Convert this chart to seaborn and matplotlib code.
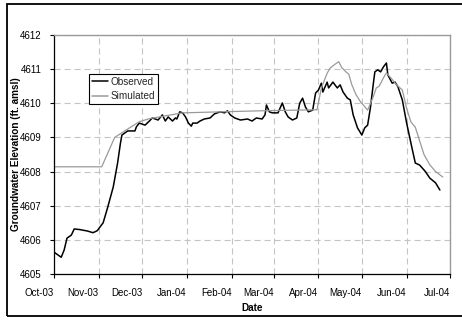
import matplotlib
matplotlib.use("Agg")
import matplotlib.pyplot as plt
import matplotlib.dates as mdates
from matplotlib.patches import Rectangle
import pandas as pd
import seaborn as sns

# Observed groundwater elevation (ft amsl)
obs_dates = [
    "2003-10-01", "2003-10-04", "2003-10-06", "2003-10-08", "2003-10-10",
    "2003-10-13", "2003-10-15", "2003-10-19", "2003-10-24", "2003-10-28",
    "2003-10-31", "2003-11-01", "2003-11-04", "2003-11-07", "2003-11-11",
    "2003-11-14", "2003-11-16", "2003-11-17", "2003-11-21", "2003-11-26",
    "2003-11-27", "2003-11-29", "2003-12-03", "2003-12-06", "2003-12-08",
    "2003-12-12", "2003-12-15", "2003-12-17", "2003-12-19", "2003-12-22",
    "2003-12-24", "2003-12-25", "2003-12-27", "2003-12-29", "2003-12-31",
    "2004-01-02", "2004-01-04", "2004-01-05", "2004-01-08", "2004-01-10",
    "2004-01-13", "2004-01-17", "2004-01-20", "2004-01-24", "2004-01-27",
    "2004-01-29", "2004-01-31", "2004-02-03", "2004-02-07", "2004-02-12",
    "2004-02-15", "2004-02-18", "2004-02-22", "2004-02-24", "2004-02-25",
    "2004-02-27", "2004-02-29", "2004-03-04", "2004-03-07", "2004-03-09",
    "2004-03-11", "2004-03-14", "2004-03-17", "2004-03-19", "2004-03-21",
    "2004-03-23", "2004-03-25", "2004-03-28", "2004-03-30", "2004-04-01",
    "2004-04-03", "2004-04-04", "2004-04-07", "2004-04-08", "2004-04-11",
    "2004-04-14", "2004-04-16", "2004-04-18", "2004-04-21", "2004-04-23",
    "2004-04-25", "2004-04-28", "2004-05-01", "2004-05-03", "2004-05-05",
    "2004-05-07", "2004-05-09", "2004-05-10", "2004-05-12", "2004-05-14",
    "2004-05-16", "2004-05-18", "2004-05-19", "2004-05-22", "2004-05-24",
    "2004-05-26", "2004-05-29", "2004-06-01", "2004-06-05", "2004-06-07",
    "2004-06-10", "2004-06-14", "2004-06-17", "2004-06-21", "2004-06-24",
]
obs_values = [
    4605.64, 4605.55, 4605.49, 4605.70, 4606.05,
    4606.14, 4606.32, 4606.30, 4606.26, 4606.21,
    4606.27, 4606.33, 4606.50, 4606.93, 4607.55,
    4608.25, 4608.84, 4609.07, 4609.19, 4609.19,
    4609.31, 4609.42, 4609.36, 4609.48, 4609.57,
    4609.51, 4609.66, 4609.48, 4609.60, 4609.48,
    4609.57, 4609.54, 4609.75, 4609.72, 4609.60,
    4609.42, 4609.33, 4609.42, 4609.42, 4609.48,
    4609.54, 4609.57, 4609.69, 4609.75, 4609.72,
    4609.78, 4609.66, 4609.57, 4609.51, 4609.54,
    4609.48, 4609.57, 4609.54, 4609.66, 4609.95,
    4609.75, 4609.72, 4609.72, 4610.01, 4609.75,
    4609.60, 4609.51, 4609.57, 4610.00, 4610.15,
    4609.89, 4609.75, 4609.80, 4610.30, 4610.39,
    4610.59, 4610.33, 4610.62, 4610.45, 4610.62,
    4610.45, 4610.54, 4610.33, 4610.15, 4610.10,
    4609.66, 4609.28, 4609.07, 4609.28, 4609.36,
    4609.89, 4610.59, 4610.92, 4610.98, 4610.92,
    4611.07, 4611.18, 4610.83, 4610.59, 4610.62,
    4610.48, 4610.10, 4609.42, 4608.63, 4608.25,
    4608.19, 4608.00, 4607.81, 4607.67, 4607.46,
]

# Simulated groundwater elevation (ft amsl)
sim_dates = [
    "2003-10-01", "2003-11-03", "2003-11-12", "2003-11-23", "2003-11-29",
    "2003-12-06", "2003-12-29", "2004-02-21", "2004-03-31", "2004-04-03",
    "2004-04-07", "2004-04-09", "2004-04-12", "2004-04-15", "2004-04-17",
    "2004-04-20", "2004-04-22", "2004-04-24", "2004-04-27", "2004-04-30",
    "2004-05-03", "2004-05-05", "2004-05-09", "2004-05-11", "2004-05-13",
    "2004-05-16", "2004-05-18", "2004-05-22", "2004-05-25", "2004-05-29",
    "2004-06-01", "2004-06-04", "2004-06-07", "2004-06-10", "2004-06-13",
    "2004-06-17", "2004-06-21", "2004-06-26",
]
sim_values = [
    4608.14, 4608.14, 4609.00, 4609.30, 4609.46,
    4609.55, 4609.72, 4609.78, 4609.81, 4610.45,
    4610.88, 4611.03, 4611.13, 4611.22, 4611.05,
    4610.92, 4610.85, 4610.55, 4610.25, 4610.05,
    4609.90, 4609.80, 4610.20, 4610.45, 4610.50,
    4610.75, 4610.89, 4610.70, 4610.54, 4610.39,
    4609.85, 4609.45, 4609.30, 4608.90, 4608.50,
    4608.20, 4608.00, 4607.84,
]

series_names = ["Observed", "Simulated"]
series_colors = ["#000000", "#9a9a9a"]
month_ticks = pd.date_range("2003-10-01", "2004-07-01", freq="MS")
y_ticks = [4605, 4606, 4607, 4608, 4609, 4610, 4611, 4612]

df = pd.concat([
    pd.DataFrame({"Date": pd.to_datetime(obs_dates), "Elevation": obs_values,
                  "Series": series_names[0]}),
    pd.DataFrame({"Date": pd.to_datetime(sim_dates), "Elevation": sim_values,
                  "Series": series_names[1]}),
], ignore_index=True)

sns.set_theme(style="white")
plt.rcParams["font.family"] = ["Liberation Sans", "DejaVu Sans"]

fig = plt.figure(figsize=(4.62, 3.2), dpi=100)
ax = fig.add_axes([54 / 462, 1 - 274 / 320, 396 / 462, 239 / 320])

sns.lineplot(data=df, x="Date", y="Elevation", hue="Series",
             palette=dict(zip(series_names, series_colors)),
             hue_order=series_names, ax=ax, estimator=None, sort=False)
for line, lw in zip(ax.get_lines(), [1.1, 0.9]):
    line.set_linewidth(lw)

ax.set_xlim(month_ticks[0], month_ticks[-1])
ax.set_ylim(4605, 4612)
ax.set_xticks(month_ticks)
ax.xaxis.set_major_formatter(mdates.DateFormatter("%b-%y"))
ax.set_yticks(y_ticks)
ax.set_yticklabels([str(v) for v in y_ticks])

ax.grid(True, color="#c4c4c4", linestyle=(0, (5.5, 3.5)), linewidth=0.8)
ax.set_axisbelow(True)

ax.tick_params(axis="both", which="major", direction="out", length=3,
               width=0.8, color="black", labelsize=7, labelcolor="black",
               left=True, bottom=True)
ax.tick_params(axis="y", pad=6)
ax.tick_params(axis="x", pad=7)
# month labels sit just left of their tick marks
for lbl in ax.get_xticklabels():
    lbl.set_horizontalalignment("right")

for side in ("left", "bottom"):
    ax.spines[side].set_color("black")
    ax.spines[side].set_linewidth(0.9)
for side in ("top", "right"):
    ax.spines[side].set_color("#9a9a9a")
    ax.spines[side].set_linewidth(1.0)

ax.set_ylabel("Groundwater Elevation (ft. amsl)", fontsize=7.2,
              fontweight="bold", va="center", color="black")
ax.yaxis.set_label_coords(-0.097, 0.5)
ax.set_xlabel("Date", fontsize=7.2, fontweight="bold", va="center",
              color="black")
ax.xaxis.set_label_coords(0.5, -0.142)

leg = ax.legend(loc="upper left", bbox_to_anchor=(0.088, 0.837),
                borderaxespad=0, fontsize=7.2, frameon=True, fancybox=False,
                edgecolor="black", framealpha=1, handlelength=1.6,
                handletextpad=0.25, labelspacing=0.45, borderpad=0.3)
leg.get_frame().set_linewidth(0.8)
for h in leg.get_lines():
    h.set_linewidth(1.1)

# Chart-area border
fig.patches.append(Rectangle((7 / 462, 4 / 320), 1.2, 312 / 320,
                             transform=fig.transFigure, fill=False,
                             edgecolor="black", linewidth=1.3))

fig.savefig("out.png", dpi=100, facecolor="white")
